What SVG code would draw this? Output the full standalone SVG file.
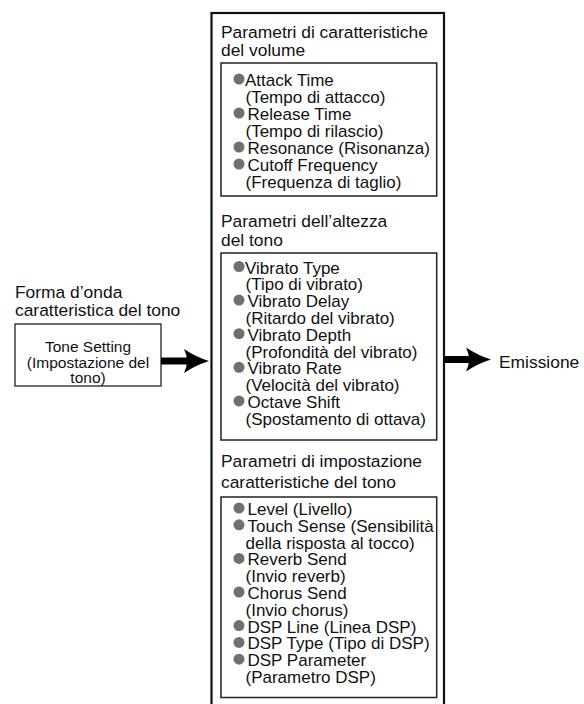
<svg xmlns="http://www.w3.org/2000/svg" width="584" height="704" viewBox="0 0 584 704">
  <style>
    text { font-family: "Liberation Sans", Arial, Helvetica, sans-serif; fill: #111; }
    .head { font-size: 17.4px; }
    .item { font-size: 17px; }
    .small { font-size: 15.5px; }
    .frame { fill: #fff; stroke: #111; stroke-width: 2.2; }
    .panel { fill: #fff; stroke: #222; stroke-width: 1.5; }
    .tone { fill: #fff; stroke: #222; stroke-width: 1.3; }
    .dot { fill: #707070; }
    .flow { fill: none; stroke: #000; stroke-width: 7; }
  </style>
  <defs>
    <marker id="arrowhead" markerUnits="userSpaceOnUse" markerWidth="26" markerHeight="26" refX="6" refY="12" orient="auto" overflow="visible">
      <path d="M0,0 Q12,8 25,12 Q12,16 0,24 Q6,12 0,0 Z" fill="#000"/>
    </marker>
  </defs>

  <rect width="584" height="704" fill="#fff"/>

  <!-- Source: tone waveform -->
  <g id="source">
    <text class="head" x="15" y="298">Forma d’onda</text>
    <text class="head" x="15" y="316">caratteristica del tono</text>
    <rect class="tone" x="15" y="324" width="146" height="62"/>
    <text class="small" x="88" y="352" text-anchor="middle">Tone Setting</text>
    <text class="small" x="88" y="367.5" text-anchor="middle">(Impostazione del</text>
    <text class="small" x="88" y="383" text-anchor="middle">tono)</text>
  </g>

  <!-- Parameter block -->
  <g id="parameters">
    <rect class="frame" x="211.5" y="13" width="232.5" height="720"/>

    <g id="volume">
      <text class="head" x="221" y="38">Parametri di caratteristiche</text>
      <text class="head" x="221" y="56">del volume</text>
      <rect class="panel" x="221" y="63" width="215.7" height="133"/>
      <circle class="dot" cx="239" cy="79" r="5.5"/>
      <text class="item" x="245" y="86">Attack Time</text>
      <text class="item" x="245.5" y="103">(Tempo di attacco)</text>
      <circle class="dot" cx="239" cy="113" r="5.5"/>
      <text class="item" x="247.5" y="120">Release Time</text>
      <text class="item" x="245.5" y="137">(Tempo di rilascio)</text>
      <circle class="dot" cx="239" cy="147" r="5.5"/>
      <text class="item" x="247.5" y="154">Resonance (Risonanza)</text>
      <circle class="dot" cx="239" cy="164" r="5.5"/>
      <text class="item" x="247.5" y="171">Cutoff Frequency</text>
      <text class="item" x="245.5" y="188">(Frequenza di taglio)</text>
    </g>

    <g id="pitch">
      <text class="head" x="221" y="227">Parametri dell’altezza</text>
      <text class="head" x="221" y="246">del tono</text>
      <rect class="panel" x="221" y="253" width="215.7" height="187"/>
      <circle class="dot" cx="239" cy="266.5" r="5.5"/>
      <text class="item" x="245" y="273.5">Vibrato Type</text>
      <text class="item" x="245.5" y="290.3">(Tipo di vibrato)</text>
      <circle class="dot" cx="239" cy="300.1" r="5.5"/>
      <text class="item" x="247.5" y="307.1">Vibrato Delay</text>
      <text class="item" x="245.5" y="323.9">(Ritardo del vibrato)</text>
      <circle class="dot" cx="239" cy="333.7" r="5.5"/>
      <text class="item" x="247.5" y="340.7">Vibrato Depth</text>
      <text class="item" x="245.5" y="357.5">(Profondità del vibrato)</text>
      <circle class="dot" cx="239" cy="367.3" r="5.5"/>
      <text class="item" x="247.5" y="374.3">Vibrato Rate</text>
      <text class="item" x="245.5" y="391.1">(Velocità del vibrato)</text>
      <circle class="dot" cx="239" cy="400.9" r="5.5"/>
      <text class="item" x="247.5" y="407.9">Octave Shift</text>
      <text class="item" x="245.5" y="424.7">(Spostamento di ottava)</text>
    </g>

    <g id="tone-settings">
      <text class="head" x="221" y="467">Parametri di impostazione</text>
      <text class="head" x="221" y="487.5">caratteristiche del tono</text>
      <rect class="panel" x="221" y="497" width="215.7" height="200.5"/>
      <circle class="dot" cx="239" cy="508" r="5.5"/>
      <text class="item" x="247.5" y="515">Level (Livello)</text>
      <circle class="dot" cx="239" cy="524.8" r="5.5"/>
      <text class="item" x="247.5" y="531.8">Touch Sense (Sensibilità</text>
      <text class="item" x="245.5" y="548.6">della risposta al tocco)</text>
      <circle class="dot" cx="239" cy="558.4" r="5.5"/>
      <text class="item" x="247.5" y="565.4">Reverb Send</text>
      <text class="item" x="245.5" y="582.2">(Invio reverb)</text>
      <circle class="dot" cx="239" cy="592" r="5.5"/>
      <text class="item" x="247.5" y="599">Chorus Send</text>
      <text class="item" x="245.5" y="615.8">(Invio chorus)</text>
      <circle class="dot" cx="239" cy="625.6" r="5.5"/>
      <text class="item" x="247.5" y="632.6">DSP Line (Linea DSP)</text>
      <circle class="dot" cx="239" cy="642.4" r="5.5"/>
      <text class="item" x="247.5" y="649.4">DSP Type (Tipo di DSP)</text>
      <circle class="dot" cx="239" cy="659.2" r="5.5"/>
      <text class="item" x="247.5" y="666.2">DSP Parameter</text>
      <text class="item" x="245.5" y="683">(Parametro DSP)</text>
    </g>
  </g>

  <!-- Output -->
  <g id="output">
    <text class="head" x="499" y="367.5">Emissione</text>
  </g>

  <!-- Signal flow -->
  <g id="connectors">
    <line class="flow" x1="161" y1="361" x2="190" y2="361" marker-end="url(#arrowhead)"/>
    <line class="flow" x1="444" y1="359.5" x2="472" y2="359.5" marker-end="url(#arrowhead)"/>
  </g>
</svg>
